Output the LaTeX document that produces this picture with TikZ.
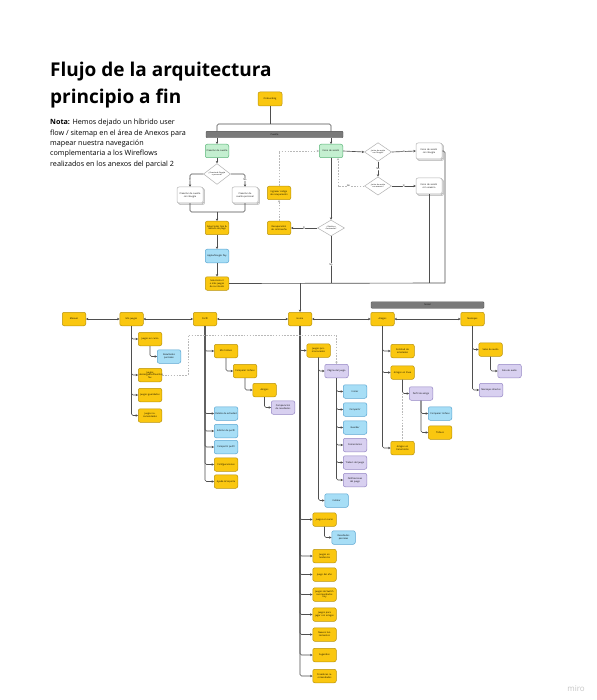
\documentclass[tikz,border=0pt]{standalone}
\usepackage{fontspec}
\setmainfont{Open Sans}
\usetikzlibrary{shapes.geometric,arrows.meta,shadows}
\definecolor{myyellow}{HTML}{FAC710}
\definecolor{myyellowd}{HTML}{B8920C}
\definecolor{myblue}{HTML}{A7DEF6}
\definecolor{mybluedraw}{HTML}{5AA6D2}
\definecolor{mypurple}{HTML}{D8D0F0}
\definecolor{mypurpled}{HTML}{9486C4}
\definecolor{mygreen}{HTML}{C4EFD0}
\definecolor{mygreend}{HTML}{5DB67A}
\definecolor{bargray}{HTML}{7A7A7A}
\definecolor{linegray}{HTML}{4F4F4F}
\begin{document}
\begin{tikzpicture}[x=1pt,y=-1pt,
  box/.style={draw, rounded corners=2pt, line width=0.5pt, minimum width=23.5pt, minimum height=13.5pt,
    inner sep=0.4pt, text width=21.5pt, align=center, font=\fontsize{2.3}{2.8}\selectfont},
  yel/.style={box, fill=myyellow, draw=myyellowd},
  blu/.style={box, fill=myblue, draw=mybluedraw},
  pur/.style={box, fill=mypurple, draw=mypurpled},
  grn/.style={box, fill=mygreen, draw=mygreend},
  wht/.style={box, fill=white, draw=gray!60, minimum width=26pt, minimum height=16pt, text width=23pt,
    double copy shadow={shadow xshift=0.8pt, shadow yshift=-0.8pt, fill=white, draw=gray!60}},
  dec/.style={diamond, draw=gray!60, fill=white, line width=0.5pt, minimum width=27pt, minimum height=16pt,
    inner sep=0pt, align=center, font=\fontsize{1.9}{2.3}\selectfont},
  bar/.style={fill=bargray, draw=bargray!70!black, rounded corners=1pt, line width=0.4pt, minimum height=6.5pt,
    inner sep=0pt, font=\fontsize{2.3}{2.8}\selectfont},
  ln/.style={draw=linegray, line width=0.65pt, rounded corners=1.5pt},
  arr/.style={ln, -{Stealth[length=2.4pt,width=2.4pt]}},
  dbl/.style={ln, {Stealth[length=2.4pt,width=2.4pt]}-{Stealth[length=2.4pt,width=2.4pt]}},
  darr/.style={draw=gray!55, line width=0.6pt, dash pattern=on 1.6pt off 1.3pt, -{Stealth[length=2.4pt,width=2.4pt]}},
  dln/.style={draw=gray!55, line width=0.6pt, dash pattern=on 1.6pt off 1.3pt},
  lbl/.style={fill=white, inner sep=0.4pt, font=\fontsize{2.3}{2.8}\selectfont, text=black}
]
\useasboundingbox (0,0) rectangle (596,700);
\fill[white] (0,0) rectangle (596,700);

% title and note
\node[anchor=base west, inner sep=0pt, font=\fontsize{19}{28}\selectfont\bfseries] (t1) at (50,77) {Flujo de la arquitectura};
\node[anchor=base west, inner sep=0pt, font=\fontsize{19}{28}\selectfont\bfseries] (t2) at (50,104) {principio a fin};
\node[anchor=north west, inner sep=0pt, align=left, font=\fontsize{7.2}{10.4}\selectfont] (note) at (50,119)
 {\textbf{Nota:} Hemos dejado un híbrido user\\flow / sitemap en el área de Anexos para\\mapear nuestra navegación\\complementaria a los Wireflows\\realizados en los anexos del parcial 2};
\node[text=gray!45, font=\fontsize{8}{9}\selectfont] (miro) at (576,689) {miro};

% account section
\node[yel, minimum width=24pt, minimum height=14pt] (onb) at (270,99) {Onboarding};
\node[bar, minimum width=137pt] (cuenta) at (274.5,134.5) {Cuenta};
\node[grn] (crea) at (217,151) {Creación de cuenta};
\node[grn] (ini) at (331,151) {Inicio de sesión};
\draw[ln] (onb.south) -- (onb.south |- 0,124);
\draw[ln] (cuenta.north -| crea) -- (217,124) -- (331,124) -- (cuenta.north -| ini);
\draw[arr] (cuenta.south -| crea) -- (crea.north);
\draw[arr] (cuenta.south -| ini) -- (ini.north);

\node[dec, minimum height=12pt] (d1) at (217,174) {¿Cuenta de Google\\o personal?};
\node[wht] (w1) at (190,195) {Creación de cuenta con Google};
\node[wht] (w2) at (245,195) {Creación de cuenta personal};
\draw[arr] (crea.south) -- (d1.north);
\draw[arr] (d1.west) -| node[lbl, pos=0.72] {Sí} (w1.north);
\draw[arr] (d1.east) -| node[lbl, pos=0.72] {No} (w2.north);

\node[yel] (sel) at (217,228) {Seleccionar tipo \& método de pago};
\node[blu] (pay) at (217,256) {Apple/Google Pay};
\node[yel] (selj) at (217,283.5) {Selecciona 3 o más juegos de su interés};
\coordinate (jn1) at (217,212);
\draw[ln] (w1.south) |- (jn1);
\draw[ln] (w2.south) |- (jn1);
\draw[arr] (jn1) -- (sel.north);
\draw[arr] (sel.south) -- (pay.north);
\draw[arr] (pay.south) -- (selj.north);

\node[dec] (d2) at (378,152) {¿Inicio de sesión\\con Google?};
\node[wht] (r1) at (429,151) {Inicio de sesión con Google};
\node[dec] (d3) at (378,186) {¿Inicio de sesión\\con usuario?};
\node[wht] (r2) at (429,186) {Inicio de sesión con usuario};
\draw[arr] (ini.east) -- (d2.west);
\draw[arr] (d2.east) -- node[lbl] {Sí} (r1.west);
\draw[arr] (d2.south) -- node[lbl] {No} (d3.north);
\draw[arr] (d3.east) -- node[lbl] {Sí} (r2.west);
\draw[darr] (d3.west) -| node[lbl, pos=0.3] {No} (ini.south -| 338,0);

\node[dec] (d4) at (331,228) {¿Olvidó su\\contraseña?};
\node[yel] (rec) at (279,228) {Recuperación de contraseña};
\node[yel] (ing) at (279,193) {Ingresar código de recuperación};
\draw[arr] (ini.south) -- (d4.north);
\draw[arr] (d4.west) -- node[lbl] {Sí} (rec.east);
\draw[darr] (rec.north) -- (ing.south);
\draw[darr] (ing.north) |- (ini.west);

% main junction
\coordinate (jr) at (445,283);
\coordinate (jh) at (300,283);
\draw[ln] (selj.east) -- (jr);
\draw[ln] (r1.east) -| (jr);
\draw[ln] (r2.south) -- (r2.south |- jr);
\draw[ln] (d4.south) -- node[lbl, pos=0.6] {No} (d4.south |- jr);

% main row
\node[yel] (manual) at (74,319) {Manual};
\node[yel] (misj) at (131.5,319) {Mis juegos};
\node[yel] (perfil) at (205,319) {Perfil};
\node[yel] (home) at (300,319) {Home};
\node[yel] (amigos) at (382.5,319) {Amigos};
\node[yel] (mens) at (472.5,319) {Mensajes};
\node[bar, minimum width=113pt] (social) at (427.5,305) {Social};
\draw[arr] (jh) -- (home.north);
\draw[dbl] (manual.east) -- (misj.west);
\draw[dbl] (misj.east) -- (perfil.west);
\draw[dbl] (perfil.east) -- (home.west);
\draw[dbl] (home.east) -- (amigos.west);
\draw[dbl] (amigos.east) -- (mens.west);

% Mis juegos
\node[yel] (jc) at (150,339) {Juegos en curso};
\node[blu] (rp1) at (169,356.5) {Resultados parciales};
\node[yel] (jf) at (150,375) {Juegos\\descargados/favoritos\\fav};
\node[yel] (jg) at (150,395) {Juegos guardados};
\node[yel] (jr2) at (150,415.5) {Juegos recomendados};
\foreach \n in {jc,jf,jg,jr2} \draw[arr] (misj.south) |- (\n.west);
\draw[arr] (jc.south) |- (rp1.west);

% Perfil
\node[yel] (mt) at (226,351) {Mis trofeos};
\node[yel] (ct) at (245,371) {Comparar trofeos};
\node[yel] (am2) at (264.5,390) {Amigos};
\node[pur] (cr) at (283,407.5) {Comparación de resultados};
\node[blu] (da) at (226,413.5) {Detalle de actividad};
\node[blu] (ep) at (226,431) {Edición de perfil};
\node[blu] (cp) at (226,447) {Compartir perfil};
\node[yel] (cf) at (226,464.5) {Configuraciones};
\node[yel] (as) at (226,481.5) {Ayuda \& Soporte};
\foreach \n in {mt,da,ep,cp,cf,as} \draw[arr] (perfil.south) |- (\n.west);
\draw[arr] (mt.south) |- (ct.west);
\draw[arr] (ct.south) |- (am2.west);
\draw[arr] (am2.south) |- (cr.west);

% Home
\node[yel] (jp) at (318.5,350.5) {Juegos promocionados};
\node[pur] (pj) at (336.5,371) {Página del juego};
\node[blu] (ju) at (355,391.5) {Iniciar};
\node[blu] (co) at (355,409.5) {Compartir};
\node[blu] (gu) at (355,427.5) {Guardar};
\node[pur] (cm) at (355,445) {Comentarios};
\node[pur] (tr) at (355,462.5) {Trailers del juego};
\node[pur] (ca) at (355,480) {Calificaciones del juego};
\node[blu] (ins) at (336.5,500.5) {Instalar};
\node[yel] (jc2) at (324.5,519.5) {Juegos en curso};
\node[blu] (rp2) at (343.5,537.5) {Resultados parciales};
\node[yel] (jt) at (324.5,556) {Juegos en tendencia};
\node[yel] (ja) at (324.5,574.5) {Juego del año};
\node[yel] (jn) at (324.5,594.5) {Juegos de Switch\\recomendados\\hoy};
\node[yel] (jam) at (324.5,614.5) {Juegos para jugar con amigos};
\node[yel] (nl) at (324.5,634.5) {Nuevos lanzamientos};
\node[yel] (su) at (324.5,655) {Sugeridos};
\node[yel] (crr) at (324.5,676) {Creadores recomendados};
\foreach \n in {jp,jc2,jt,ja,jn,jam,nl,su,crr} \draw[arr] (home.south) |- (\n.west);
\draw[arr] (jp.south) |- (pj.west);
\draw[arr] (jp.south) |- (ins.west);
\foreach \n in {ju,co,gu,cm,tr,ca} \draw[arr] (pj.south) |- (\n.west);
\draw[arr] (jc2.south) |- (rp2.west);
\draw[darr] (jf.east) -- (188,375) -- (188,335) -| (pj.north);

% Amigos
\node[yel] (sa) at (402.5,351) {Solicitud de amistades};
\node[yel] (ael) at (402.5,372.5) {Amigos en línea};
\node[pur] (pa) at (421,393.5) {Perfil de amigo};
\node[blu] (ctr) at (440,413.5) {Comparar trofeos};
\node[yel] (tro) at (440,432.5) {Trofeos};
\node[yel] (aet) at (402.5,448) {Amigos en transmisión};
\foreach \n in {sa,ael,aet} \draw[arr] (amigos.south) |- (\n.west);
\draw[arr] (ael.south) |- (pa.west);
\draw[arr] (pa.south) |- (ctr.west);
\draw[arr] (pa.south) |- (tro.west);
\draw[dln] (ael.south |- pa.west) -- (aet.north);

% Mensajes
\node[yel] (sau) at (490.5,349.5) {Salas de audio};
\node[pur] (sa2) at (509.5,371) {Sala de audio};
\node[pur] (md) at (491,390) {Mensajes directos};
\draw[arr] (mens.south) |- (sau.west);
\draw[arr] (mens.south) |- (md.west);
\draw[arr] (sau.south) |- (sa2.west);
\end{tikzpicture}
\end{document}
